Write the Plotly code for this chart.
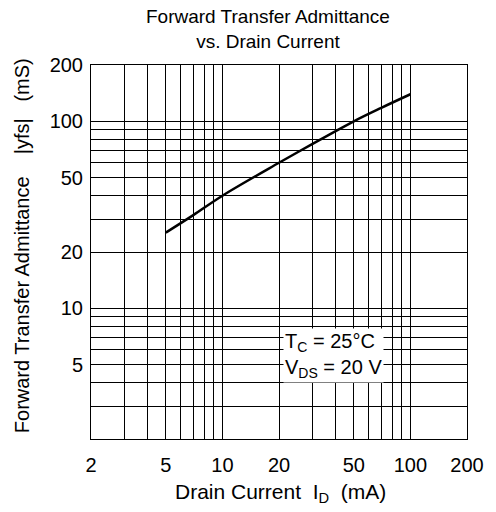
import math
import plotly.graph_objects as go

# Data
drain_current_mA = [5, 7, 10, 20, 30, 50, 70, 100]
admittance_mS = [25.4, 31.5, 40, 60, 75.5, 100, 118, 139.5]

x_grid_vals = [2, 3, 4, 5, 6, 7, 8, 9, 10, 20, 30, 40, 50, 60, 70, 80, 90, 100, 200]
x_labels = {2: "2", 5: "5", 10: "10", 20: "20", 50: "50", 100: "100", 200: "200"}
y_grid_vals = [2, 3, 4, 5, 6, 7, 8, 9, 10, 20, 30, 40, 50, 60, 70, 80, 90, 100, 200]
y_labels = {5: "5", 10: "10", 20: "20", 50: "50", 100: "100", 200: "200"}

FONT = "Liberation Sans, Arial, sans-serif"
NB = "\u00a0"

fig = go.Figure()
fig.add_trace(go.Scatter(
    x=drain_current_mA, y=admittance_mS, mode="lines",
    line=dict(color="black", width=2.5, shape="spline"),
    showlegend=False, hoverinfo="skip"))

# condition box
fig.add_annotation(
    x=math.log10(21), y=math.log10(5.6), xref="x", yref="y",
    xanchor="left", yanchor="middle", align="left", showarrow=False,
    text="T<sub>C</sub> = 25°C<br>V<sub>DS</sub> = 20 V",
    font=dict(family=FONT, size=20, color="black"),
    bgcolor="white", borderpad=1)

# chart title
fig.add_annotation(
    x=0.47, y=1.095, xref="paper", yref="paper",
    xanchor="center", yanchor="middle", showarrow=False,
    text="Forward Transfer Admittance<br>vs. Drain Current",
    font=dict(family=FONT, size=19, color="black"))

# x axis title
fig.add_annotation(
    x=0.505, y=-0.144, xref="paper", yref="paper",
    xanchor="center", yanchor="middle", showarrow=False,
    text="Drain Current" + NB * 2 + "I<sub>D</sub>" + NB * 2 + "(mA)",
    font=dict(family=FONT, size=21, color="black"))

# y axis title
fig.add_annotation(
    x=-0.183, y=0.516, xref="paper", yref="paper",
    xanchor="center", yanchor="middle", showarrow=False, textangle=-90,
    text="Forward Transfer Admittance" + NB * 4 + "|yfs|" + NB * 3 + "(mS)",
    font=dict(family=FONT, size=20, color="black"))

axis_common = dict(
    type="log", showgrid=True, gridcolor="black", gridwidth=1,
    showline=True, linecolor="black", linewidth=1, mirror=True,
    ticks="", zeroline=False, tickfont=dict(family=FONT, size=20, color="black"),
    tickmode="array")

fig.update_xaxes(
    **axis_common, range=[math.log10(2), math.log10(200)],
    tickvals=x_grid_vals, ticktext=[x_labels.get(v, "") for v in x_grid_vals],
    ticklabelstandoff=8)
fig.update_yaxes(
    **axis_common, range=[math.log10(2), math.log10(200)],
    tickvals=y_grid_vals, ticktext=[y_labels.get(v, "") for v in y_grid_vals],
    ticklabelstandoff=3)

fig.update_layout(
    width=496, height=512,
    margin=dict(l=91, r=27, t=65, b=73),
    paper_bgcolor="white", plot_bgcolor="white",
)

fig.write_html("out.html",
               config={"displayModeBar": False},
               post_script="document.body.style.margin='0';document.body.style.overflow='hidden';")
